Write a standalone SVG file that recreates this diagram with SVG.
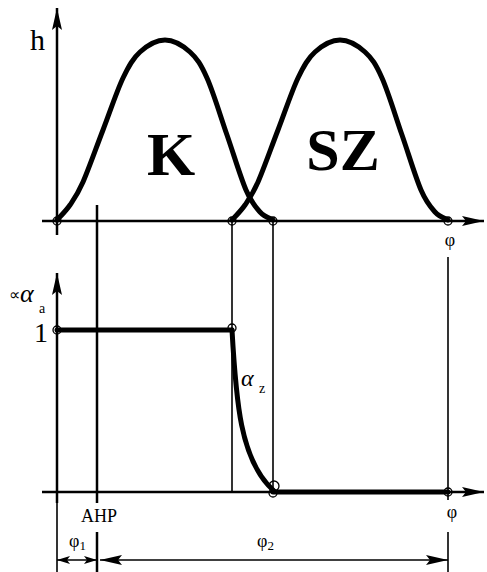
<svg xmlns="http://www.w3.org/2000/svg" width="487" height="572" viewBox="0 0 487 572">
<style>
.ax{stroke:#000;stroke-width:2.5;fill:none}
.thin{stroke:#000;stroke-width:1.6;fill:none}
.thick{stroke:#000;stroke-width:5;fill:none;stroke-linecap:round}
.pt{stroke:#000;stroke-width:1.3;fill:none}
.t{font-family:"Liberation Serif","Times New Roman",serif;fill:#000}
</style>
<defs>
<marker id="ah" markerUnits="userSpaceOnUse" viewBox="0 0 22 10" refX="22" refY="5" markerWidth="22" markerHeight="10" orient="auto-start-reverse">
<path d="M0,0 L22,5 L0,10 L4,5 z" fill="#000"/>
</marker>
<marker id="as" markerUnits="userSpaceOnUse" viewBox="0 0 13 8" refX="13" refY="4" markerWidth="13" markerHeight="8" orient="auto-start-reverse">
<path d="M0,0 L13,4 L0,8 L3,4 z" fill="#000"/>
</marker>
<path id="bell" d="M57,220 C59.2,217.5 65.7,211.3 70,205 C74.3,198.7 77.5,194.5 83,182 C88.5,169.5 96.3,147.3 103,130 C109.7,112.7 116.8,91 123,78 C129.2,65 133,58.3 140,52 C147,45.7 156.7,40 165,40 C173.3,40 183,45.7 190,52 C197,58.3 200.8,64.2 207,78 C213.2,91.8 220.5,116.3 227,135 C233.5,153.7 240.5,177.2 246,190 C251.5,202.8 255.5,207 260,212 C264.5,217 270.8,218.7 273,220"/>
</defs>
<g id="connectors">
<line class="ax" x1="57" y1="235" x2="57" y2="8" marker-end="url(#ah)"/>
<line class="ax" x1="42" y1="221" x2="484" y2="221" marker-end="url(#ah)"/>
<line class="ax" x1="57" y1="503" x2="57" y2="273" marker-end="url(#ah)"/>
<line class="thin" x1="57" y1="503" x2="57" y2="572"/>
<line class="ax" x1="42" y1="492" x2="484" y2="492" marker-end="url(#ah)"/>
<line class="ax" x1="97" y1="205" x2="97" y2="503"/>
<line class="ax" x1="97" y1="532" x2="97" y2="572"/>
<line class="thin" x1="232" y1="221" x2="232" y2="492"/>
<line class="thin" x1="273" y1="221" x2="273" y2="492"/>
<line class="thin" x1="448" y1="257" x2="448" y2="500"/>
<line class="thin" x1="448" y1="532" x2="448" y2="572"/>
<line class="thin" x1="57" y1="560" x2="97" y2="560" marker-start="url(#as)" marker-end="url(#as)"/>
<line class="thin" x1="100" y1="560" x2="448" y2="560" marker-start="url(#ah)" marker-end="url(#ah)"/>
</g>
<g id="curve-K">
<use href="#bell" class="thick"/>
<text class="t" x="171" y="175" font-size="62" font-weight="bold" text-anchor="middle">K</text>
</g>
<g id="curve-SZ">
<use href="#bell" class="thick" transform="translate(175,0)"/>
<text class="t" x="343" y="170" font-size="60" font-weight="bold" text-anchor="middle">SZ</text>
</g>
<g id="alpha-curve">
<line class="thick" x1="57" y1="330" x2="232" y2="330"/>
<path class="thick" d="M232,330 C236,400 240,460 273,490"/>
<line class="thick" x1="273" y1="492" x2="448" y2="492"/>
</g>
<g id="points">
<circle class="pt" cx="57" cy="221" r="4" fill="#fff"/>
<circle class="pt" cx="232" cy="221" r="4"/>
<circle class="pt" cx="273" cy="221" r="4"/>
<circle class="pt" cx="448" cy="221" r="4"/>
<circle class="pt" cx="57" cy="330" r="4"/>
<circle class="pt" cx="232" cy="328" r="4"/>
<circle class="pt" cx="274" cy="486" r="5"/>
<circle class="pt" cx="273" cy="493" r="4"/>
<circle class="pt" cx="448" cy="492" r="4"/>
</g>
<g id="labels">
<text class="t" x="30" y="50" font-size="30">h</text>
<text class="t" x="9" y="300" font-size="16">∝</text>
<text class="t" x="20" y="302" font-size="26" font-style="italic">α</text>
<text class="t" x="39" y="313" font-size="14">a</text>
<text class="t" x="41" y="342" font-size="28" text-anchor="middle">1</text>
<text class="t" x="241" y="386" font-size="24" font-style="italic">α</text>
<text class="t" x="259" y="393" font-size="14">z</text>
<text class="t" x="450" y="246" font-size="18" text-anchor="middle">φ</text>
<text class="t" x="452" y="518" font-size="18" text-anchor="middle">φ</text>
<text class="t" x="99" y="522" font-size="18" text-anchor="middle">AHP</text>
<text class="t" x="69" y="547" font-size="18">φ<tspan font-size="13" dy="3">1</tspan></text>
<text class="t" x="257" y="547" font-size="18">φ<tspan font-size="13" dy="3">2</tspan></text>
</g>
</svg>
